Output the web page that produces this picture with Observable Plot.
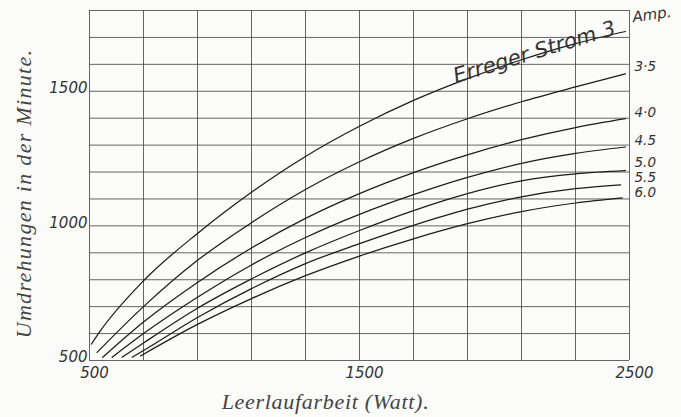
<!DOCTYPE html>
<html>
<head>
<meta charset="utf-8">
<script src="https://cdn.jsdelivr.net/npm/d3@7"></script>
<script src="https://cdn.jsdelivr.net/npm/@observablehq/plot@0.6"></script>
<style>
  html, body { margin: 0; padding: 0; background: #fbfbfa; }
  #chart svg { display: block; }
</style>
</head>
<body>
<div id="chart"></div>
<script>
// ---- Data (Leerlaufarbeit in Watt, Umdrehungen / Minute) ----
const currents = ["3", "3.5", "4.0", "4.5", "5.0", "5.5", "6.0"];
const currentLabels = ["3", "3·5", "4·0", "4.5", "5.0", "5.5", "6.0"];

const watt30 = [507, 533, 700, 900, 1100, 1300, 1500, 1700, 1900, 2100, 2300, 2485];
const rpm30  = [561, 600, 796, 972, 1125, 1258, 1370, 1466, 1547, 1617, 1677, 1722];

const watt35 = [528, 700, 900, 1100, 1300, 1500, 1700, 1900, 2100, 2300, 2485];
const rpm35  = [530, 700, 872, 1012, 1135, 1238, 1325, 1398, 1461, 1516, 1565];

const watt40 = [549, 700, 900, 1100, 1300, 1500, 1700, 1900, 2100, 2300, 2485];
const rpm40  = [512, 643, 790, 918, 1028, 1120, 1198, 1264, 1320, 1365, 1398];

const watt45 = [584, 700, 900, 1100, 1300, 1500, 1700, 1900, 2100, 2300, 2485];
const rpm45  = [512, 600, 735, 855, 957, 1043, 1116, 1180, 1232, 1269, 1293];

const watt50 = [621, 700, 900, 1100, 1300, 1500, 1700, 1900, 2100, 2300, 2485];
const rpm50  = [512, 565, 694, 803, 900, 983, 1057, 1120, 1167, 1193, 1205];

const watt55 = [658, 700, 900, 1100, 1300, 1500, 1700, 1900, 2100, 2300, 2467];
const rpm55  = [512, 537, 660, 767, 860, 934, 1002, 1062, 1108, 1138, 1152];

const watt60 = [689, 900, 1100, 1300, 1500, 1700, 1900, 2100, 2300, 2473];
const rpm60  = [517, 634, 730, 815, 888, 952, 1008, 1053, 1085, 1104];

const xGrid = [500, 700, 900, 1100, 1300, 1500, 1700, 1900, 2100, 2300, 2500];
const yGrid = [500, 600, 700, 800, 900, 1000, 1100, 1200, 1300, 1400, 1500, 1600, 1700, 1800];
const xTickLabels = [500, 1500, 2500];
const yTickLabels = [500, 1000, 1500];

const xTitle = "Leerlaufarbeit (Watt).";
const yTitle = "Umdrehungen in der Minute.";
const curveTitle = "Erreger Strom 3";
const curveUnit = "Amp.";

// ---- Build tables ----
const wattSets = [watt30, watt35, watt40, watt45, watt50, watt55, watt60];
const rpmSets  = [rpm30, rpm35, rpm40, rpm45, rpm50, rpm55, rpm60];

const lines = currents.flatMap((c, k) =>
  wattSets[k].map((w, i) => ({current: c, watt: w, rpm: rpmSets[k][i]})));

// small vertical nudges (px) so the crowded end labels sit as in the drawing
const labelNudge = [-14, -7, -6, -6, -8, -7, -5];

const ends = currents.map((c, k) => ({
  current: c,
  label: currentLabels[k],
  rpm: rpmSets[k][rpmSets[k].length - 1],
  nudge: labelNudge[k]
}));
const endLabels = ends.slice(1);
const topEnd = ends[0];

const hand = "'DejaVu Sans', sans-serif";
const serif = "'Liberation Serif', 'DejaVu Serif', serif";
const gridStroke = "#4a4a4a";
const ink = "#1c1c1c";

const chart = Plot.plot({
  width: 681,
  height: 417,
  marginLeft: 89,
  marginRight: 52,
  marginTop: 10,
  marginBottom: 57,
  x: {domain: [500, 2500], axis: null},
  y: {domain: [500, 1800], axis: null},
  style: {background: "#fbfbfa", overflow: "visible"},
  marks: [
    Plot.ruleX(xGrid, {stroke: gridStroke, strokeWidth: 0.85}),
    Plot.ruleY(yGrid, {stroke: gridStroke, strokeWidth: 0.85}),
    Plot.line(lines, {
      x: "watt", y: "rpm", z: "current",
      curve: "monotone-x", stroke: ink, strokeWidth: 1.25
    }),
    // y tick labels
    Plot.text(yTickLabels, {
      x: 500, y: d => d, text: d => String(d),
      textAnchor: "end", dx: -2, dy: -3,
      fontFamily: hand, fontStyle: "italic", fontSize: 15, fill: "#333"
    }),
    // x tick labels
    Plot.text(xTickLabels, {
      x: d => d, y: 500, text: d => String(d),
      dx: 5, dy: 13,
      fontFamily: hand, fontStyle: "italic", fontSize: 15, fill: "#333"
    }),
    // current labels at the right end of the curves
    ...endLabels.map(d => Plot.text([d], {
      x: 2500, y: "rpm", text: "label",
      textAnchor: "start", dx: 5, dy: d.nudge,
      fontFamily: hand, fontStyle: "italic", fontSize: 13.5, fill: "#333"
    })),
    // label along the top curve
    Plot.text([curveTitle], {
      x: 2155, y: 1632, text: d => d,
      rotate: -17, textAnchor: "middle", lineAnchor: "bottom", dy: 3,
      fontFamily: hand, fontStyle: "italic", fontSize: 21, fill: "#333"
    }),
    Plot.text([topEnd], {
      x: 2500, y: "rpm", text: () => curveUnit,
      textAnchor: "start", dx: 3, dy: topEnd.nudge, rotate: -8,
      fontFamily: hand, fontStyle: "italic", fontSize: 15, fill: "#333"
    }),
    // axis titles
    Plot.text([xTitle], {
      frameAnchor: "bottom", text: d => d, textAnchor: "middle", lineAnchor: "bottom",
      dy: 48, dx: -34,
      fontFamily: serif, fontStyle: "italic", fontSize: 22, fill: "#444"
    }),
    Plot.text([yTitle], {
      frameAnchor: "left", text: d => d, textAnchor: "middle", rotate: -90,
      dx: -66, dy: 8,
      fontFamily: serif, fontStyle: "italic", fontSize: 22, fill: "#444"
    })
  ]
});

// widen the spaced-out lettering of the printed axis titles
d3.select(chart).selectAll("text").each(function () {
  const t = this.textContent;
  if (t === yTitle) this.setAttribute("letter-spacing", "1.3");
  if (t === xTitle) this.setAttribute("letter-spacing", "0.7");
});

document.getElementById("chart").appendChild(chart);
</script>
</body>
</html>
